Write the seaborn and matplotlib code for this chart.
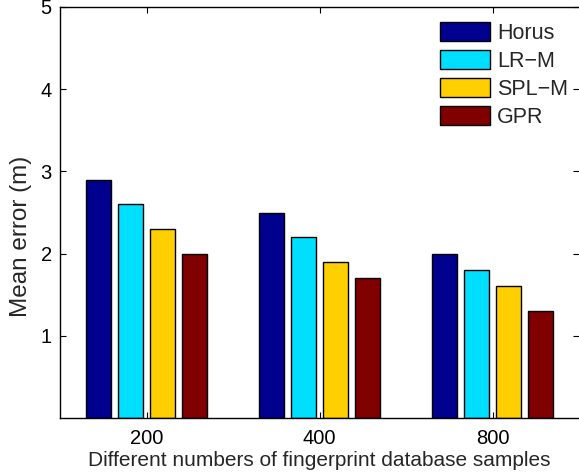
import matplotlib
matplotlib.use("Agg")
import matplotlib.pyplot as plt
import seaborn as sns
import pandas as pd

# Mean localisation error per method and database size
sample_sizes = ["200", "400", "800"]
methods = ["Horus", "LR\u2212M", "SPL\u2212M", "GPR"]
horus = [2.9, 2.5, 2.0]
lr_m = [2.6, 2.2, 1.8]
spl_m = [2.3, 1.9, 1.6]
gpr = [2.0, 1.7, 1.3]
colors = ["#00008F", "#00DFFF", "#FFCF00", "#800000"]

rows = []
for name, vals in zip(methods, [horus, lr_m, spl_m, gpr]):
    for size, v in zip(sample_sizes, vals):
        rows.append({"samples": size, "method": name, "error": v})
df = pd.DataFrame(rows)

sns.set_style("ticks")
plt.rcParams["font.family"] = ["Liberation Sans", "DejaVu Sans"]
plt.rcParams["axes.linewidth"] = 1.0

fig = plt.figure(figsize=(5.79, 4.74), dpi=100)
ax = fig.add_axes([60 / 579, 56 / 474, 519 / 579, 411 / 474])

sns.barplot(data=df, x="samples", y="error", hue="method",
            order=sample_sizes, hue_order=methods, palette=colors,
            saturation=1, width=0.74, gap=0.19, edgecolor="black",
            linewidth=1.0, ax=ax, legend=True)

ax.set_xlim(-0.5, 2.5)
ax.set_ylim(0, 5)
ax.set_yticks([1, 2, 3, 4, 5])
ax.tick_params(axis="both", direction="in", length=4, width=0.8,
               top=True, right=True, labelsize=14.5, colors="black")
ax.tick_params(axis="x", pad=8)
ax.tick_params(axis="y", pad=6)
ax.spines["right"].set_visible(False)
for s in ["left", "top", "bottom"]:
    ax.spines[s].set_color("black")

ax.set_xlabel("Different numbers of fingerprint database samples",
              fontsize=15, labelpad=2)
ax.set_ylabel("Mean error (m)", fontsize=17.5)
ax.yaxis.set_label_coords(-0.053, 0.443)

handles, labels = ax.get_legend_handles_labels()
ax.legend(handles, labels, loc="upper left", frameon=False,
          bbox_to_anchor=(440 / 579, 1 - 22 / 474),
          bbox_transform=fig.transFigure, borderpad=0, borderaxespad=0,
          fontsize=15.5, handlelength=2.3, handleheight=1.0,
          handletextpad=0.35, labelspacing=0.28)

fig.savefig("out.png", dpi=100)
